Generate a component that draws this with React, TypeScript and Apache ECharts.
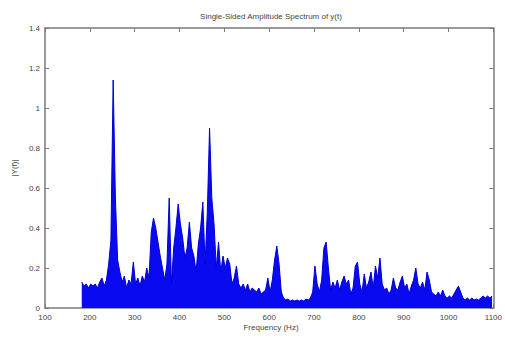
import React, { useEffect, useRef } from "react";
import * as echarts from "echarts";

const titleText = "Single-Sided Amplitude Spectrum of y(t)";
const xAxisName = "Frequency (Hz)";
const yAxisName = "|Y(f)|";

// FFT bins: first bin frequency and bin spacing (Hz)
const freqStart = 182;
const freqStep = 5;

// |Y(f)|, one value per bin (182 Hz ... 1097 Hz)
const amplitude = [
  0.13, 0.11, 0.12, 0.10, 0.12, 0.11, 0.12, 0.10, 0.13, 0.15,
  0.11, 0.14, 0.22, 0.34, 1.14, 0.55, 0.24, 0.18, 0.13, 0.16,
  0.10, 0.14, 0.12, 0.23, 0.12, 0.15, 0.11, 0.16, 0.13, 0.20,
  0.15, 0.38, 0.45, 0.40, 0.33, 0.26, 0.20, 0.14, 0.22, 0.55,
  0.12, 0.30, 0.40, 0.52, 0.42, 0.35, 0.25, 0.30, 0.43, 0.30,
  0.26, 0.18, 0.32, 0.40, 0.53, 0.22, 0.48, 0.90, 0.55, 0.42,
  0.20, 0.33, 0.18, 0.26, 0.20, 0.25, 0.22, 0.12, 0.15, 0.21,
  0.12, 0.10, 0.12, 0.09, 0.12, 0.08, 0.10, 0.09, 0.08, 0.10,
  0.07, 0.08, 0.09, 0.15, 0.08, 0.14, 0.24, 0.31, 0.22, 0.08,
  0.05, 0.04, 0.045, 0.035, 0.04, 0.035, 0.04, 0.035, 0.04, 0.035,
  0.045, 0.04, 0.05, 0.08, 0.21, 0.12, 0.08, 0.14, 0.30, 0.33,
  0.20, 0.09, 0.13, 0.10, 0.14, 0.09, 0.13, 0.16, 0.12, 0.14,
  0.07, 0.10, 0.21, 0.23, 0.12, 0.08, 0.17, 0.10, 0.13, 0.18,
  0.10, 0.21, 0.15, 0.25, 0.12, 0.09, 0.10, 0.07, 0.09, 0.15,
  0.10, 0.09, 0.13, 0.16, 0.10, 0.12, 0.07, 0.11, 0.14, 0.20,
  0.12, 0.10, 0.13, 0.09, 0.18, 0.14, 0.08, 0.07, 0.06, 0.08,
  0.06, 0.09, 0.06, 0.05, 0.06, 0.05, 0.07, 0.09, 0.11, 0.08,
  0.05, 0.04, 0.05, 0.04, 0.05, 0.04, 0.045, 0.04, 0.05, 0.06,
  0.05, 0.06, 0.05, 0.06,
];

const xMin = 100;
const xMax = 1100;
const xInterval = 100;
const yMin = 0;
const yMax = 1.4;
const yInterval = 0.2;

const FONT = "'Liberation Sans', Arial, sans-serif";
const AXIS_COLOR = "#7a7a7a";
const TEXT_COLOR = "#444";

export default function App() {
  const ref = useRef<HTMLDivElement>(null);

  useEffect(() => {
    document.body.style.margin = "0";
    if (!ref.current) return;
    const chart = echarts.init(ref.current, undefined, { renderer: "svg" });

    const data = amplitude.map((v, i) => [freqStart + i * freqStep, v]);

    const grid = { left: 45, right: 8, top: 28, bottom: 31 };
    const plotCx = grid.left + (505 - grid.left - grid.right) / 2;

    const baseX = {
      type: "value" as const,
      min: xMin,
      max: xMax,
      interval: xInterval,
      splitLine: { show: false },
      axisLine: { show: true, onZero: false, lineStyle: { color: AXIS_COLOR, width: 1.5 } },
      axisTick: { show: true, inside: true, length: 4, lineStyle: { color: AXIS_COLOR } },
    };
    const baseY = {
      type: "value" as const,
      min: yMin,
      max: yMax,
      interval: yInterval,
      splitLine: { show: false },
      axisLine: { show: true, onZero: false, lineStyle: { color: AXIS_COLOR, width: 1.5 } },
      axisTick: { show: true, inside: true, length: 4, lineStyle: { color: AXIS_COLOR } },
    };

    chart.setOption({
      animation: false,
      backgroundColor: "#ffffff",
      grid,
      xAxis: [
        {
          ...baseX,
          position: "bottom",
          axisLabel: {
            show: true,
            fontSize: 8,
            color: TEXT_COLOR,
            fontFamily: FONT,
            margin: 5,
            formatter: (v: number) => String(v),
          },
        },
        {
          ...baseX,
          position: "top",
          axisLabel: { show: false },
        },
      ],
      yAxis: [
        {
          ...baseY,
          position: "left",
          axisLabel: {
            show: true,
            fontSize: 8,
            color: TEXT_COLOR,
            fontFamily: FONT,
            margin: 5,
            formatter: (v: number) => String(Math.round(v * 10) / 10),
          },
        },
        {
          ...baseY,
          position: "right",
          axisLabel: { show: false },
        },
      ],
      graphic: [
        {
          type: "text",
          x: plotCx,
          y: 16,
          style: {
            text: titleText,
            fontSize: 8,
            fontFamily: FONT,
            fill: TEXT_COLOR,
            align: "center",
            verticalAlign: "middle",
          },
        },
        {
          type: "text",
          x: plotCx,
          y: 327,
          style: {
            text: xAxisName,
            fontSize: 8,
            fontFamily: FONT,
            fill: TEXT_COLOR,
            align: "center",
            verticalAlign: "middle",
          },
        },
        {
          type: "text",
          x: 14,
          y: 168,
          rotation: Math.PI / 2,
          style: {
            text: yAxisName,
            fontSize: 8,
            fontFamily: FONT,
            fill: TEXT_COLOR,
            align: "center",
            verticalAlign: "middle",
          },
        },
      ],
      series: [
        {
          type: "line",
          xAxisIndex: 0,
          yAxisIndex: 0,
          data,
          showSymbol: false,
          symbol: "none",
          lineStyle: { color: "#0000d8", width: 1 },
          areaStyle: { color: "#0a0af0", opacity: 1, origin: "start" },
          z: 1,
        },
      ],
    });

    return () => chart.dispose();
  }, []);

  return (
    <div
      ref={ref}
      style={{ width: 505, height: 339, position: "absolute", left: 0, top: 0 }}
    />
  );
}
